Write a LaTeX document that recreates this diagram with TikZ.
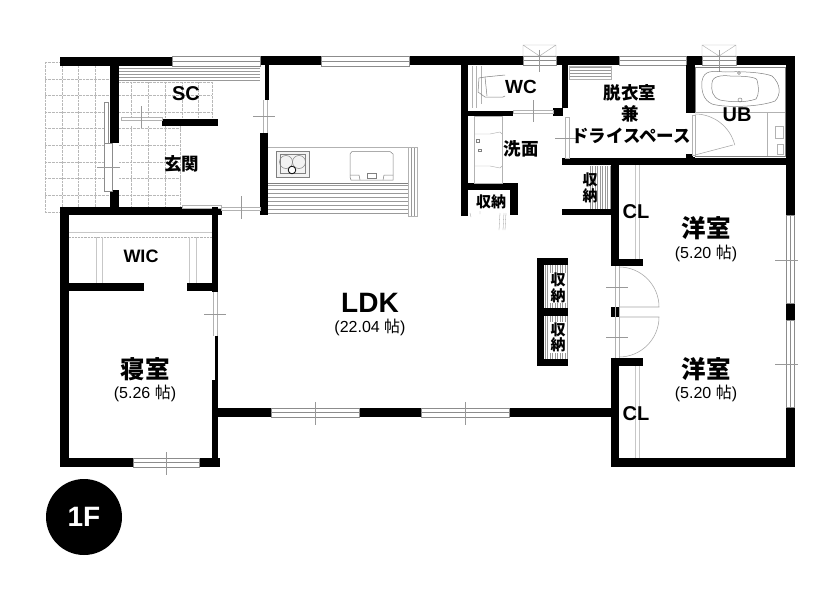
\documentclass[tikz,border=0pt]{standalone}
\usepackage{fontspec}
\setmainfont{Liberation Sans}
\newfontfamily\latinf{Liberation Sans}
\newfontfamily\jpf{Noto Sans CJK JP}
\newfontfamily\jpl{Noto Sans CJK JP}
\newcommand\wl[4]{\fill[black] (#1,#2) rectangle (#3,#4);}
\newcommand\hwin[4]{\draw[winline,fill=white] (#1,#2) rectangle (#3,#4); \draw[winline] (#1,{(#2+#4)/2}) -- (#3,{(#2+#4)/2});}
\newcommand\vwin[4]{\draw[winline,fill=white] (#1,#2) rectangle (#3,#4); \draw[winline] ({(#1+#3)/2},#2) -- ({(#1+#3)/2},#4);}
\newcommand\hhatch[5]{\foreach \yy in {#3,#5,...,#4} \draw[hatch] (#1,\yy) -- (#2,\yy);}
\newcommand\vhatch[5]{\foreach \xx in {#1,#5,...,#2} \draw[hatch] (\xx,#3) -- (\xx,#4);}
\tikzset{
  winline/.style={draw=black!45,line width=0.6pt},
  hatch/.style={draw=black!40,line width=0.4pt},
  tile/.style={draw=black!28,line width=0.35pt,densely dotted},
  fix/.style={draw=black!50,line width=0.5pt},
  thinfix/.style={draw=black!30,line width=0.45pt},
  doorline/.style={draw=black!35,line width=0.55pt},
  tick/.style={draw=black!40,line width=0.3pt},
  clline/.style={draw=black!22,line width=0.7pt},
  big/.style={inner sep=0pt,font=\jpf\bfseries\fontsize{24.5}{25}\selectfont},
  sub/.style={inner sep=0pt,font=\fontsize{16}{16}\selectfont},
  label/.style={inner sep=0pt,font=\latinf\bfseries\fontsize{20}{20}\selectfont},
  jp/.style={inner sep=0pt,font=\jpf\bfseries\fontsize{17.5}{18}\selectfont},
  store/.style={inner sep=0pt,font=\jpf\bfseries\fontsize{15}{15}\selectfont},
}
\begin{document}
\begin{tikzpicture}[x=1pt,y=-1pt]
\useasboundingbox (0,0) rectangle (840,594);
\fill[white] (0,0) rectangle (840,594);
% tiles
\foreach \xx in {45,62,78,95,110} \draw[tile] (\xx,62) -- (\xx,212);
\foreach \yy in {62,79,95,112,128,145,162,178,195,212} \draw[tile] (45,\yy) -- (110,\yy);
\foreach \xx in {131,148,165,182,198,212} \draw[tile] (\xx,82) -- (\xx,118);
\foreach \yy in {82,95,112} \draw[tile] (119,\yy) -- (212,\yy);
\foreach \xx in {131,148,165,180} \draw[tile] (\xx,126) -- (\xx,208);
\foreach \yy in {128,145,162,178,195} \draw[tile] (119,\yy) -- (180,\yy);
% step shelf
\hhatch{119}{260}{68}{82}{71}
% kitchen
\draw[thinfix] (268,147) -- (408,147);
\draw[fix] (268,183) -- (408,183);
\hhatch{268}{408}{185}{214}{189}
\vhatch{408}{417}{147}{216}{411}
\draw[thinfix] (408,147) rectangle (417,216);
\draw[fix,fill=black!5] (276,151) rectangle (309,177);
\draw[fix] (280,154) rectangle (305,173);
\draw[fix] (286,162) circle (6.5);
\draw[fix] (299,162) circle (6.5);
\draw[black,line width=0.8pt,fill=white] (292,170) circle (3.8);
\draw[fix] (352,151.5) -- (390,151.5) -- (393,154) -- (393,180) -- (351,180) -- (350,177) -- (350,154) -- cycle;
\draw[fix] (350,175) -- (359,175) -- (360,180) (393,175) -- (384,175) -- (383,180);
\draw[fix] (367,173) rectangle (376,178);
% outer walls
\wl{60}{57}{172}{66}
\wl{260}{56}{321}{65}
\wl{409}{56}{523}{65}
\wl{556}{56}{619}{65}
\wl{686}{56}{702}{65}
\wl{736}{56}{795}{65}
% windows top
\hwin{172}{56}{260}{66}
\hwin{321}{56}{409}{66}
\hwin{523}{56}{556}{65}
\hwin{619}{56}{686}{65}
\hwin{702}{56}{736}{65}
% vents
\draw[thinfix] (523,45) rectangle (556,56) (523,45) -- (539.5,56) -- (556,45);
\draw[thinfix] (702,45) rectangle (736,56) (702,45) -- (719,56) -- (736,45);
\draw[tick] (539.5,50) -- (539.5,72) (719,50) -- (719,72);
% entrance walls
\wl{110}{57}{119}{143}
\wl{110}{190}{119}{215}
\wl{60}{207}{222}{215}
\wl{162}{119}{218}{126}
\wl{265}{65}{269}{100}
\wl{260}{133}{268}{215}
% entrance door
\draw[winline,fill=white] (104,102) rectangle (108,143);
\draw[winline,fill=white] (104,143) rectangle (112,191);
\draw[tick] (97,167) -- (120,167);
\draw[thinfix,fill=white] (121,117) rectangle (162,120);
\draw[tick] (141,106) -- (141,128);
% entrance to LDK doors
\draw[thinfix] (263,100) -- (263,133) (267,100) -- (267,133);
\draw[tick] (253,116) -- (275,116);
\draw[thinfix,fill=white] (182,205) rectangle (221,208);
\draw[thinfix,fill=white] (221,207) rectangle (260,210);
\draw[tick] (241,196) -- (241,219);
% WC / wash walls
\wl{461}{65}{468}{216}
\wl{468}{111}{513}{116}
\wl{468}{183}{518}{190}
\wl{510}{190}{518}{215}
\wl{553}{108}{563}{116}
\wl{562}{65}{568}{108}
\wl{562}{158}{787}{165}
\wl{686}{65}{695}{113}
\wl{686}{154}{695}{158}
% WC fixture
\draw[thinfix] (472,66) -- (472,108) (476,66) -- (476,108) (481,66) -- (481,104);
\draw[fix] (485,77) -- (479,78) -- (478,92) -- (485,97) -- (503,97) -- (505,96) (485,77) -- (505,75);
\draw[fix] (485,77) -- (487,96);
% WC door
\draw[thinfix] (513,110) rectangle (553,113);
\draw[tick] (533,100) -- (533,122);
% wash counter
\draw[thinfix] (474,116) rectangle (502,183);
\draw[thinfix] (474,134) -- (490,134) -- (500,132) -- (502,134);
\draw[thinfix] (474,166) -- (490,166) -- (500,168) -- (502,166);
\draw[fix] (476,139) rectangle (479,142) (478,149) rectangle (481,151);
% wash door
\draw[thinfix] (565,117) rectangle (569,158);
\draw[tick] (555,138) -- (578,138);
% sliding storage door below 収納
\draw[tick] (500,213) -- (499,230) (504,213) -- (503,230) (506,213) -- (505,230);
\draw[tick] (470,213) -- (471,217) (480,211) -- (480,214);
% shelf in 脱衣
\hhatch{569}{611}{67}{79}{70}
\draw[thinfix] (569,66) rectangle (611,79);
% UB
\draw[fix] (695,67) rectangle (785,156);
\draw[thinfix] (767,112) -- (767,156) (695,112) -- (785,112);
\draw[fix] (702,81) .. controls (704,70) and (712,71) .. (725,72) .. controls (745,71) and (765,73) .. (772,76) .. controls (781,84) and (781,95) .. (775,101) .. controls (760,107) and (725,108) .. (712,104) .. controls (703,100) and (701,90) .. (702,81);
\draw[fix] (712,83) .. controls (712,76) and (722,75) .. (730,76) .. controls (745,76) and (756,77) .. (757,80) .. controls (759,88) and (759,95) .. (756,99) .. controls (745,103) and (730,102) .. (720,100) .. controls (712,97) and (711,90) .. (712,83);
\draw[fix] (740,100) circle (2);
\draw[fix] (739,73) circle (1.5);
\draw[thinfix] (775,126) rectangle (783,138) (777,144) rectangle (783,154);
% UB door
\fill[white] (693,113) rectangle (735,157);
\draw[thinfix] (692,115) rectangle (695,155);
\draw[fix] (695,156) -- (767,156);
\draw[doorline] (695,114) arc (-90:-14:41);
\draw[doorline] (695,155) -- (733,145);
\draw[thinfix] (735,112) -- (767,112);
% closets
\vhatch{590}{612}{166}{209}{592.5}
\wl{562}{209}{612}{215}
\wl{611}{165}{619}{266}
\wl{619}{259}{643}{266}
\wl{611}{307}{619}{317}
\wl{611}{358}{619}{467}
\wl{619}{358}{643}{366}
% CL
\draw[clline] (635,165) -- (635,259) (639,165) -- (639,259);
\draw[clline] (635,366) -- (635,458) (639,366) -- (639,458);
% doors to Western rooms
\draw[thinfix] (615,266) -- (615,358) (619,266) -- (619,358);
\draw[doorline] (619,267) arc (-90:0:40) -- (619,307);
\draw[doorline] (619,357) arc (90:0:40) -- (619,317);
\draw[tick] (606,287) -- (628,287) (606,337) -- (628,337);
% LDK storage
\vhatch{545}{568}{265}{359}{547.5}
\wl{537}{258}{544}{366}
\wl{537}{258}{568}{265}
\wl{537}{308}{568}{316}
\wl{537}{359}{568}{366}
\fill[white] (549,273) rectangle (567,303);
\fill[white] (549,322) rectangle (567,353);
% right wall
\wl{786}{57}{795}{215}
\wl{786}{303}{795}{320}
\wl{786}{407}{795}{467}
\wl{611}{458}{795}{467}
\vwin{786}{215}{794}{303}
\vwin{786}{320}{794}{407}
\draw[tick] (775,260) -- (798,260) (775,364) -- (798,364);
% south wall
\wl{218}{408}{271}{417}
\wl{359}{408}{421}{417}
\wl{509}{408}{611}{417}
\hwin{271}{408}{359}{417}
\hwin{421}{408}{509}{417}
\draw[tick] (315,402) -- (315,425) (465,402) -- (465,425);
% bedroom
\wl{60}{207}{69}{467}
\wl{60}{458}{133}{467}
\wl{199}{458}{220}{467}
\hwin{133}{458}{199}{467}
\draw[tick] (166,452) -- (166,475);
\wl{212}{207}{218}{292}
\wl{69}{283}{144}{291}
\wl{187}{283}{218}{291}
\wl{215}{336}{218}{380}
\wl{212}{380}{218}{467}
\draw[thinfix] (213,292) -- (213,336) (217,292) -- (217,336);
\draw[tick] (204,314) -- (226,314);
% WIC
\draw[clline] (69,232) -- (212,232);
\draw[thinfix,densely dotted] (69,237) -- (212,237);
\draw[clline] (96,237) -- (96,283) (102,237) -- (102,283);
\draw[clline] (189,237) -- (189,283) (196,237) -- (196,283);
% text
\node[label] (sc) at (186,94) {SC};
\node[jp] (genkan) at (181.5,164) {玄関};
\node[inner sep=0pt,font=\latinf\bfseries\fontsize{28}{28}\selectfont] (ldk) at (370,303) {LDK};
\node[sub] (ldksub) at (370,327) {(22.04 {\jpl 帖})};
\node[big] (you1) at (706,228) {洋室};
\node[sub] (you1sub) at (706,253) {(5.20 {\jpl 帖})};
\node[big] (you2) at (706,369) {洋室};
\node[sub] (you2sub) at (706,393) {(5.20 {\jpl 帖})};
\node[label] (cl1) at (636,212) {CL};
\node[label] (cl2) at (636,414) {CL};
\node[big] (shin) at (145,369) {寝室};
\node[sub] (shinsub) at (145,393) {(5.26 {\jpl 帖})};
\node[inner sep=0pt,font=\latinf\bfseries\fontsize{18}{18}\selectfont] (wic) at (141,256) {WIC};
\node[inner sep=0pt,font=\latinf\bfseries\fontsize{19}{19}\selectfont] (wc) at (521,87) {WC};
\node[label] (ub) at (737,115) {UB};
\node[jp] (dat) at (630,93) {脱衣室};
\node[jp] (ken) at (630,114) {兼};
\node[jp] (dry) at (631,136) {ドライスペース};
\node[jp] (sen) at (521,149) {洗面};
\node[store] (s1) at (491,202) {収納};
\node[store] (s2a) at (590,180) {収};
\node[store] (s2b) at (590,196) {納};
\node[store] (s3a) at (558,280) {収};
\node[store] (s3b) at (558,296) {納};
\node[store] (s4a) at (558,330) {収};
\node[store] (s4b) at (558,345) {納};
% badge
\fill[black] (84,517) circle (38);
\node[inner sep=0pt,text=white,font=\latinf\bfseries\fontsize{28}{28}\selectfont] (floor) at (84,517) {1F};
\end{tikzpicture}
\end{document}
